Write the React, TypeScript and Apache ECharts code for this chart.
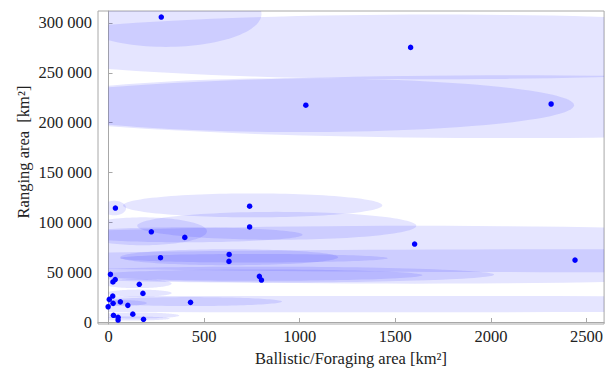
import React, { useEffect, useRef } from "react";
import * as echarts from "echarts";

// Scatter points (Ballistic/Foraging area km², Ranging area km²)
const pointX = [276, 1580, 1032, 2315, 36, 738, 738, 224, 399, 1601, 272, 631, 630, 2440, 10, 35, 23, 161, 789, 800, 180, 22, 4, -2, 24, 62, 101, 429, 26, 50, 50, 127, 183];
const pointY = [305900, 275500, 217500, 218700, 114300, 116200, 95400, 90500, 84900, 78200, 64500, 67800, 60800, 62100, 47800, 42600, 40200, 37800, 45800, 42100, 28700, 26000, 22700, 15300, 18700, 20200, 16700, 19700, 6700, 4700, 2000, 7900, 2700];

// Uncertainty ellipses: centre x, centre y, radius x, radius y (data units)
const ellCx = [300, 1710, 995, 2114, 30, 754, 180, 880, 399, 1601, 2440, 631, 760, 790, 797, 150, 160, 1300, 427, 60, 150, 120];
const ellCy = [309000, 276000, 217500, 216000, 114300, 117000, 91000, 96500, 87500, 67500, 61500, 65000, 64000, 47000, 47500, 38500, 29000, 18000, 20500, 19000, 6500, 3500];
const ellRx = [500, 2340, 1440, 2693, 62, 678, 335, 730, 616, 3000, 3500, 570, 700, 852, 1220, 180, 170, 5000, 480, 140, 220, 200];
const ellRy = [33000, 32500, 27000, 31500, 7300, 12000, 14000, 14000, 7500, 29000, 11500, 8000, 4300, 5700, 8000, 4500, 3500, 8200, 4500, 3000, 3000, 2000];

const xTicks = [0, 500, 1000, 1500, 2000, 2500];
const yTicks = [0, 50000, 100000, 150000, 200000, 250000, 300000];

const FONT = "Liberation Serif";

function clipEdge(pts: number[][], inside: (p: number[]) => boolean, inter: (a: number[], b: number[]) => number[]) {
  const out: number[][] = [];
  for (let i = 0; i < pts.length; i++) {
    const cur = pts[i];
    const prev = pts[(i + pts.length - 1) % pts.length];
    const ci = inside(cur);
    const pi = inside(prev);
    if (ci) {
      if (!pi) out.push(inter(prev, cur));
      out.push(cur);
    } else if (pi) {
      out.push(inter(prev, cur));
    }
  }
  return out;
}
const atX = (x: number) => (a: number[], b: number[]) => {
  const t = (x - a[0]) / (b[0] - a[0]);
  return [x, a[1] + t * (b[1] - a[1])];
};
const atY = (y: number) => (a: number[], b: number[]) => {
  const t = (y - a[1]) / (b[1] - a[1]);
  return [a[0] + t * (b[0] - a[0]), y];
};

export default function App() {
  const ref = useRef<HTMLDivElement>(null);
  useEffect(() => {
    if (!ref.current) return;
    const chart = echarts.init(ref.current, null, { renderer: "svg" });
    const ellData = ellCx.map((cx, i) => [cx, ellCy[i], ellRx[i], ellRy[i]]);
    const scatterData = pointX.map((x, i) => [x, pointY[i]]);
    const fmtY = (v: number) => {
      const s = String(Math.round(v));
      return s.length > 3 ? s.slice(0, -3) + " " + s.slice(-3) : s;
    };
    const fmtX = (v: number) => String(Math.round(v));
    chart.setOption({
      animation: false,
      textStyle: { fontFamily: FONT, color: "#222" },
      grid: { left: 98, right: 1, top: 11, bottom: 50, show: true, borderColor: "#a8a8a8", borderWidth: 1 },
      graphic: [
        {
          type: "text",
          x: 23,
          y: 152,
          rotation: Math.PI / 2,
          style: {
            text: "Ranging area  [km²]",
            fontFamily: FONT,
            fontSize: 16.5,
            fill: "#222",
            align: "center",
            verticalAlign: "middle",
          },
        },
      ],
      xAxis: {
        type: "value",
        min: -55,
        max: 2592,
        name: "Ballistic/Foraging area [km²]",
        nameLocation: "middle",
        nameGap: 24,
        nameTextStyle: { fontFamily: FONT, fontSize: 16.5, color: "#222" },
        axisLine: { show: true, lineStyle: { color: "#a8a8a8" } },
        axisTick: { show: true, inside: true, length: 4, customValues: xTicks, lineStyle: { color: "#a8a8a8" } },
        axisLabel: { customValues: xTicks, formatter: fmtX, fontFamily: FONT, fontSize: 16.5, color: "#222", margin: 4 },
        splitLine: { show: false },
      },
      yAxis: {
        type: "value",
        min: -2000,
        max: 312000,
        axisLine: { show: true, lineStyle: { color: "#a8a8a8" } },
        axisTick: { show: true, inside: true, length: 4, customValues: yTicks, lineStyle: { color: "#a8a8a8" } },
        axisLabel: { customValues: yTicks, formatter: fmtY, fontFamily: FONT, fontSize: 16.5, color: "#222", margin: 6 },
        splitLine: { show: false },
      },
      series: [
        {
          type: "custom",
          silent: true,
          data: ellData,
          encode: { x: 0, y: 1 },
          renderItem: (params: any, api: any) => {
            const cx = api.value(0), cy = api.value(1), rx = api.value(2), ry = api.value(3);
            const cs = params.coordSys;
            const origin = api.coord([0, 0]);
            const left = origin[0];
            const bottom = origin[1];
            const right = cs.x + cs.width;
            const top = cs.y;
            let pts: number[][] = [];
            const N = 120;
            for (let k = 0; k < N; k++) {
              const a = (k / N) * Math.PI * 2;
              pts.push(api.coord([cx + rx * Math.cos(a), cy + ry * Math.sin(a)]));
            }
            pts = clipEdge(pts, (p) => p[0] >= left, atX(left));
            pts = clipEdge(pts, (p) => p[0] <= right, atX(right));
            pts = clipEdge(pts, (p) => p[1] >= top, atY(top));
            pts = clipEdge(pts, (p) => p[1] <= bottom, atY(bottom));
            if (pts.length < 3) return null;
            return {
              type: "polygon",
              shape: { points: pts },
              style: { fill: "rgba(20,20,255,0.11)", stroke: null },
            };
          },
          z: 1,
        },
        {
          type: "scatter",
          data: scatterData,
          symbol: "circle",
          symbolSize: 5.5,
          itemStyle: { color: "#0000ff", opacity: 1 },
          z: 5,
        },
      ],
    });
    return () => chart.dispose();
  }, []);
  return <div ref={ref} style={{ width: 606, height: 374, position: "absolute", left: 0, top: 0 }} />;
}
